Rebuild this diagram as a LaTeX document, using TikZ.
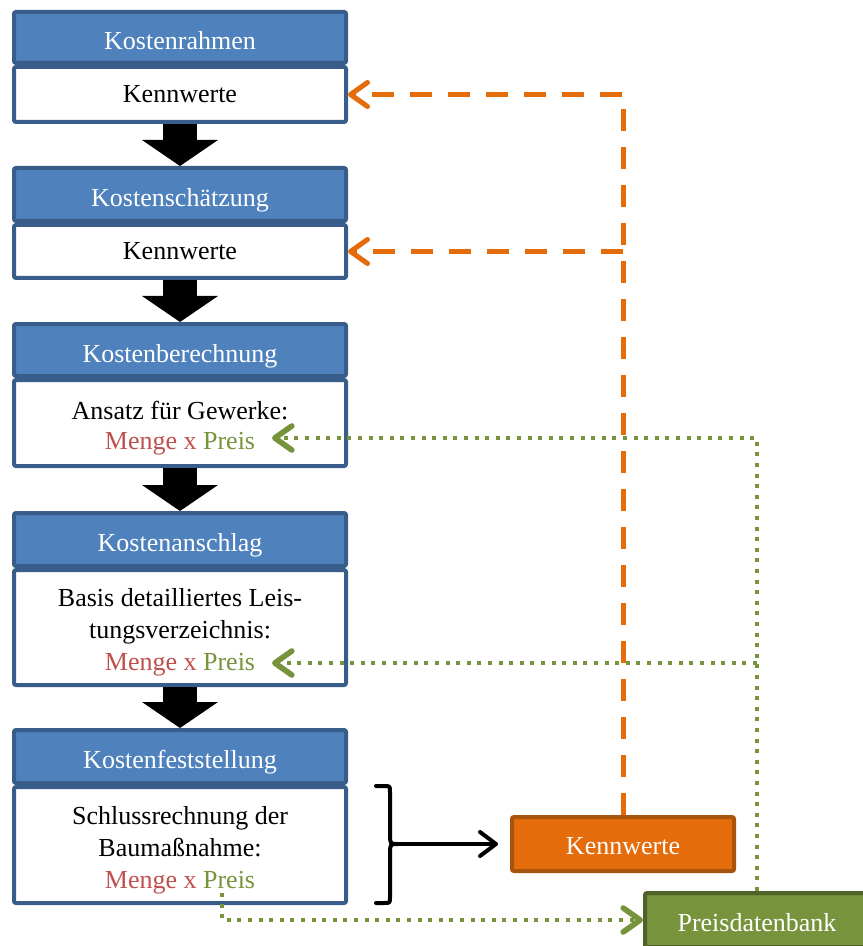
\documentclass[tikz,border=0pt]{standalone}
\usepackage{fontspec}
\setmainfont{Liberation Serif}
\usetikzlibrary{arrows.meta}

\definecolor{hdrblue}{HTML}{4F81BD}
\definecolor{edgeblue}{HTML}{385D8A}
\definecolor{mengered}{HTML}{C0504D}
\definecolor{preisgreen}{HTML}{77933C}
\definecolor{kwfill}{HTML}{E46C0A}
\definecolor{kwedge}{HTML}{A9540C}
\definecolor{pdedge}{HTML}{4F6228}

\newcommand{\mxp}{\textcolor{mengered}{Menge x} \textcolor{preisgreen}{Preis}}
% taller first line pushes a multi-line block a little lower in its box
\newcommand{\toprule}{\rule{0pt}{14pt}}

\begin{document}
\begin{tikzpicture}[x=0.5pt,y=-0.5pt,
  font=\fontsize{13}{16}\selectfont,
  header/.style={draw=edgeblue, fill=hdrblue, line width=2pt, text=white,
    minimum width=166pt, inner sep=0pt, rounded corners=1pt,
    text height=12pt, text depth=0pt},
  body/.style={draw=edgeblue, fill=white, line width=2pt, align=center,
    minimum width=166pt, inner sep=0pt, rounded corners=1pt},
  blockarrow/.style={line width=17pt, black,
    -{Triangle[length=13pt,width=38pt,line width=0pt]}},
  kwbox/.style={draw=kwedge, fill=kwfill, line width=2pt, text=white,
    minimum width=111pt, minimum height=27pt, inner sep=0pt, rounded corners=1pt,
    text height=10.5pt, text depth=0pt},
  pdbox/.style={draw=pdedge, fill=preisgreen, line width=2pt, text=white,
    minimum width=112pt, minimum height=27pt, inner sep=0pt, rounded corners=1pt,
    text height=11pt, text depth=0pt},
  orangeline/.style={draw=kwfill, line width=2.5pt, dash pattern=on 11pt off 8pt,
    -{Straight Barb[length=8.5pt,width=12pt,line cap=round,line join=round]}},
  greenline/.style={draw=preisgreen, line width=2pt, dash pattern=on 2pt off 3.3pt,
    -{Straight Barb[length=8.5pt,width=12pt,line width=2.8pt,line cap=round,line join=round]}},
  blackline/.style={draw=black, line width=2pt,
    -{Straight Barb[length=8pt,width=12pt,line cap=round,line join=round]}},
  bracestyle/.style={draw=black, line width=2pt, line join=round, line cap=round}
]
\useasboundingbox (0,0) rectangle (862,946);

% cost phases: body first, header on top
\node[body, minimum height=27.5pt] (b1) at (180,94.5) {Kennwerte};
\node[header, minimum height=25.5pt] (h1) at (180,37.5) {Kostenrahmen};

\node[body, minimum height=26.5pt] (b2) at (180,251.5) {Kennwerte};
\node[header, minimum height=26.5pt] (h2) at (180,194.5) {Kostenschätzung};

\node[body, minimum height=43pt, font=\fontsize{13}{15}\selectfont] (b3) at (180,423)
  {\toprule Ansatz für Gewerke:\\ \mxp};
\node[header, minimum height=26pt] (h3) at (180,350) {Kostenberechnung};

\node[body, minimum height=57.5pt] (b4) at (180,627.5)
  {\toprule Basis detailliertes Leis-\\tungsverzeichnis:\\ \mxp};
\node[header, minimum height=26.5pt] (h4) at (180,539.5) {Kostenanschlag};

\node[body, minimum height=58pt] (b5) at (180,845)
  {\toprule Schlussrechnung der\\ Baumaßnahme:\\ \mxp};
\node[header, minimum height=26.5pt] (h5) at (180,756.5) {Kostenfeststellung};

% flow between phases
\draw[blockarrow] (b1.south) -- (h2.north);
\draw[blockarrow] (b2.south) -- (h3.north);
\draw[blockarrow] (b3.south) -- (h4.north);
\draw[blockarrow] (b4.south) -- (h5.north);

% result boxes
\node[kwbox] (kw) at (623,844) {Kennwerte};
\node[pdbox] (pd) at (757,920) {Preisdatenbank};

% end points next to the price terms
\coordinate (mp3) at (272,438);
\coordinate (mp4) at (272,663);
\coordinate (mp5) at (222,893);

% price database feedback
\draw[greenline] (pd.north) |- (mp3);
\draw[greenline] (pd.north |- mp4) -- (mp4);
\draw[greenline] (mp5) |- (pd.west);

% key figure feedback
\draw[orangeline] (kw.north) |- (b1.east);
\draw[orangeline] (kw.north |- b2.east) -- (b2.east);

% brace around the final account
\coordinate (bra) at (376,786);
\coordinate (brb) at (376,903);
\coordinate (brt) at (398,844);
\draw[bracestyle] (bra) -- (384,786) .. controls (390,786) .. (390,792)
  -- (390,834) .. controls (390,844) .. (brt)
  .. controls (390,844) .. (390,854) -- (390,897)
  .. controls (390,903) .. (384,903) -- (brb);
\draw[blackline, shorten >=6pt] (brt) -- (kw.west);
\end{tikzpicture}
\end{document}
